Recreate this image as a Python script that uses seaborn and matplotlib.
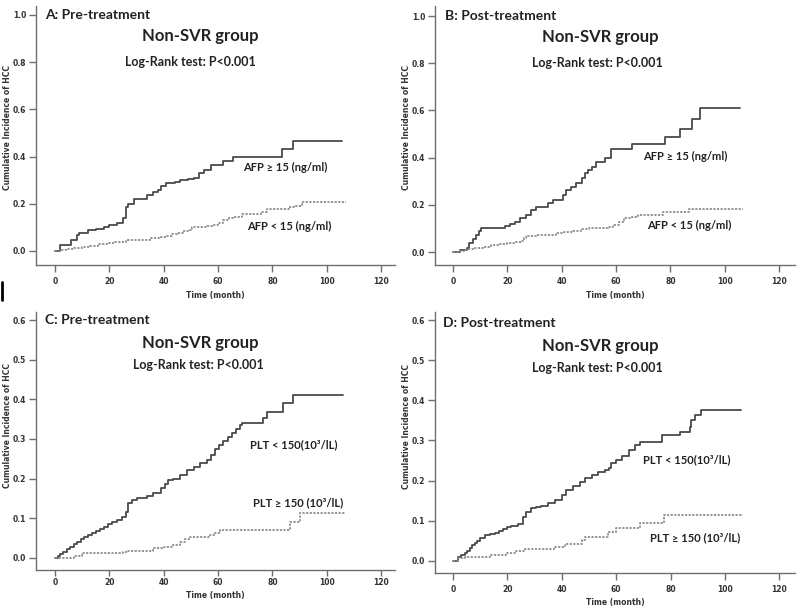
import numpy as np
import pandas as pd
import matplotlib
matplotlib.use("Agg")
import matplotlib.pyplot as plt
import seaborn as sns
from matplotlib.lines import Line2D

# ---------------- data ----------------
# Panel A: pre-treatment AFP
a_hi_t = [0, 2, 6, 8, 9, 12, 15, 18, 20, 23, 25, 26, 27, 29, 34, 36, 38, 39, 41, 44, 46, 49, 51, 53, 55, 57.5, 62, 65.5, 83.5, 87.7, 105.5]
a_hi_y = [0, 0.025, 0.047, 0.066, 0.078, 0.088, 0.094, 0.10, 0.11, 0.12, 0.14, 0.185, 0.20, 0.222, 0.237, 0.25, 0.26, 0.275, 0.287, 0.294, 0.30, 0.305, 0.31, 0.33, 0.345, 0.365, 0.38, 0.40, 0.433, 0.468, 0.468]
a_lo_t = [0, 2, 4, 7, 10, 13, 16, 19, 22, 26, 30, 35, 39, 41, 43, 45, 47, 49, 50.5, 56, 58, 60, 62, 64, 66, 69, 76, 78, 86, 88, 91, 107]
a_lo_y = [0, 0.004, 0.008, 0.013, 0.018, 0.023, 0.028, 0.033, 0.04, 0.045, 0.048, 0.054, 0.058, 0.065, 0.072, 0.078, 0.084, 0.09, 0.10, 0.105, 0.112, 0.12, 0.13, 0.14, 0.145, 0.155, 0.165, 0.178, 0.185, 0.19, 0.207, 0.207]

# Panel B: post-treatment AFP
b_hi_t = [0, 2.5, 5, 6, 7.4, 8.6, 9.5, 10.4, 19, 21, 22.7, 24.5, 27, 28.8, 30.7, 35, 36.8, 40.5, 41.7, 43.6, 45.4, 47.3, 48.5, 49.7, 51, 52.8, 56, 58, 65.8, 78, 83.5, 87.8, 91, 105.6]
b_hi_y = [0, 0.007, 0.016, 0.037, 0.054, 0.072, 0.087, 0.10, 0.11, 0.12, 0.128, 0.143, 0.157, 0.178, 0.192, 0.209, 0.22, 0.242, 0.263, 0.277, 0.291, 0.312, 0.333, 0.347, 0.361, 0.383, 0.40, 0.437, 0.457, 0.489, 0.52, 0.562, 0.609, 0.609]
b_lo_t = [0, 2, 4, 6, 8, 11, 14, 17, 20, 23, 25, 26, 27, 31, 35, 38, 41, 44, 47, 50, 57, 59, 61, 63, 66, 68, 77.3, 87, 106.7]
b_lo_y = [0, 0.004, 0.008, 0.012, 0.016, 0.022, 0.028, 0.034, 0.04, 0.044, 0.048, 0.06, 0.066, 0.07, 0.074, 0.079, 0.085, 0.09, 0.096, 0.10, 0.107, 0.115, 0.128, 0.144, 0.15, 0.158, 0.17, 0.182, 0.182]

# Panel C: pre-treatment PLT
c_lo_t = [0, 1, 2, 3, 4.5, 5.5, 7, 8, 9.5, 10.5, 12, 13.5, 15, 16.5, 18, 19.6, 21, 22.7, 24.5, 26, 27, 28.5, 30, 33.7, 36, 39, 40.5, 41.5, 43.5, 46, 48.5, 51, 53.5, 56, 57.5, 59, 60.5, 62, 63.5, 65, 66.5, 68, 69, 76.7, 78, 84, 87.7, 106]
c_lo_y = [0, 0.005, 0.01, 0.015, 0.022, 0.028, 0.034, 0.04, 0.047, 0.053, 0.058, 0.063, 0.068, 0.072, 0.078, 0.085, 0.09, 0.095, 0.104, 0.115, 0.137, 0.145, 0.15, 0.156, 0.164, 0.175, 0.185, 0.196, 0.20, 0.209, 0.221, 0.23, 0.238, 0.247, 0.26, 0.275, 0.285, 0.295, 0.305, 0.315, 0.325, 0.335, 0.34, 0.352, 0.368, 0.39, 0.41, 0.41]
c_hi_t = [0, 7, 10, 25, 26.5, 36, 40, 43.5, 46, 48, 49.7, 57, 58.5, 60.7, 86.5, 90, 106.7]
c_hi_y = [0, 0.005, 0.011, 0.015, 0.018, 0.024, 0.028, 0.032, 0.04, 0.046, 0.053, 0.057, 0.062, 0.07, 0.091, 0.112, 0.112]

# Panel D: post-treatment PLT
d_lo_t = [0, 1.8, 3, 4.3, 5.2, 6.1, 7, 8, 9, 9.8, 11.7, 13.5, 15.3, 17, 18.4, 20, 21.5, 23.9, 25.8, 27, 28.8, 30.5, 32.5, 35, 37.4, 39.9, 41.7, 44.2, 46.6, 48.5, 51, 53.4, 56, 57.2, 58, 60, 62, 64.6, 67, 68.8, 76.8, 83.5, 87, 87.6, 89, 91, 106]
d_lo_y = [0, 0.01, 0.014, 0.018, 0.025, 0.031, 0.038, 0.045, 0.05, 0.056, 0.064, 0.066, 0.07, 0.074, 0.078, 0.083, 0.087, 0.092, 0.11, 0.122, 0.131, 0.134, 0.136, 0.143, 0.151, 0.164, 0.176, 0.186, 0.197, 0.205, 0.214, 0.22, 0.225, 0.232, 0.243, 0.25, 0.26, 0.276, 0.289, 0.297, 0.313, 0.322, 0.334, 0.351, 0.363, 0.376, 0.376]
d_hi_t = [0, 1.8, 4.3, 14, 19.6, 22.7, 26.4, 37, 41, 47.3, 48.5, 57, 60, 68.8, 77.4, 106.7]
d_hi_y = [0, 0.007, 0.01, 0.015, 0.018, 0.023, 0.03, 0.035, 0.041, 0.051, 0.06, 0.072, 0.081, 0.093, 0.114, 0.114]

panel_titles = ["A: Pre-treatment", "B: Post-treatment", "C: Pre-treatment", "D: Post-treatment"]
group_title = "Non-SVR group"
test_text = "Log-Rank test: P<0.001"
afp_labels = ["AFP \u2265 15 (ng/ml)", "AFP < 15 (ng/ml)"]
plt_labels = ["PLT < 150(10\u00b3/lL)", "PLT \u2265 150 (10\u00b3/lL)"]
x_ticks = [0, 20, 40, 60, 80, 100, 120]
y_ticks_top = [0.0, 0.2, 0.4, 0.6, 0.8, 1.0]
y_ticks_bot = [0.0, 0.1, 0.2, 0.3, 0.4, 0.5, 0.6]
ylabel = "Cumulative Incidence of HCC"
xlabel = "Time (month)"

# ---------------- style ----------------
sns.set_style("ticks")
plt.rcParams['font.family'] = ['Lato', 'DejaVu Sans']

W, H = 800, 608
fig = plt.figure(figsize=(W / 100, H / 100), dpi=100)

SOLID = '#4a4a4a'
DOT = '#8c8c8c'
SPINE = '#6e6e6e'
TICKFONT = dict(family='DejaVu Sans', weight='bold', size=5.5)


def make_ax(left, right, top, bottom, x0, ppm, y0, ppu):
    ax = fig.add_axes([left / W, 1 - bottom / H, (right - left) / W, (bottom - top) / H])
    ax.set_xlim((left - x0) / ppm, (right - x0) / ppm)
    ax.set_ylim((y0 - bottom) / ppu, (y0 - top) / ppu)
    return ax


def style_ax(ax, yticks, ylab_y, xlab_y, xpad=4, xlen=5):
    for s in ['top', 'right']:
        ax.spines[s].set_visible(False)
    for s in ['left', 'bottom']:
        ax.spines[s].set_color(SPINE)
        ax.spines[s].set_linewidth(1.0)
    ax.set_xticks(x_ticks)
    ax.set_xticklabels([str(v) for v in x_ticks], fontdict=TICKFONT, color='#333333')
    ax.set_yticks(yticks)
    ax.set_yticklabels([f"{v:.1f}" for v in yticks], fontdict=TICKFONT, color='#333333')
    ax.tick_params(axis='both', direction='out', width=1, color=SPINE)
    ax.tick_params(axis='x', pad=xpad, length=xlen)
    ax.tick_params(axis='y', pad=2, length=5)
    ax.set_ylabel(ylabel, fontdict=TICKFONT, color='#333333')
    ax.set_xlabel(xlabel, fontdict=TICKFONT, color='#333333')
    ax.yaxis.set_label_coords(-0.068, ylab_y)
    ax.xaxis.set_label_coords(0.5, xlab_y)
    ax.grid(False)


def draw(ax, t, y, solid):
    df = pd.DataFrame({"t": t, "y": y})
    if solid:
        sns.lineplot(data=df, x="t", y="y", ax=ax, drawstyle='steps-post', estimator=None,
                     sort=False, color=SOLID, lw=1.3, linestyle='-')
    else:
        sns.lineplot(data=df, x="t", y="y", ax=ax, drawstyle='steps-post', estimator=None,
                     sort=False, color=DOT, lw=1.3, linestyle=(0, (1.2, 0.8)))


axA = make_ax(36, 395, 6, 265, 55, 2.717, 251, 236)
axB = make_ax(435, 795, 6, 265, 453, 2.717, 252, 236)
axC = make_ax(36, 395, 312, 570, 55, 2.717, 557.7, 396)
axD = make_ax(435, 795, 312, 573, 453, 2.72, 560.7, 401)

draw(axA, a_hi_t, a_hi_y, True)
draw(axA, a_lo_t, a_lo_y, False)
draw(axB, b_hi_t, b_hi_y, True)
draw(axB, b_lo_t, b_lo_y, False)
draw(axC, c_lo_t, c_lo_y, True)
draw(axC, c_hi_t, c_hi_y, False)
draw(axD, d_lo_t, d_lo_y, True)
draw(axD, d_hi_t, d_hi_y, False)

style_ax(axA, y_ticks_top, 0.53, -0.10)
style_ax(axB, y_ticks_top, 0.53, -0.10)
style_ax(axC, y_ticks_bot, 0.56, -0.080, xpad=1.5, xlen=4)
style_ax(axD, y_ticks_bot, 0.56, -0.097)


def ftext(x, y, s, **kw):
    fig.text(x / W, 1 - y / H, s, va='center', color='#222222', **kw)


# panel tags
ftext(45, 15, panel_titles[0], ha='left', fontsize=10, fontweight='bold')
ftext(445, 16, panel_titles[1], ha='left', fontsize=10, fontweight='bold')
ftext(45, 320, panel_titles[2], ha='left', fontsize=10, fontweight='bold')
ftext(443, 323, panel_titles[3], ha='left', fontsize=10, fontweight='bold')

# group titles
for (x, y) in [(200, 36), (600, 37), (200, 343), (600, 346)]:
    ftext(x, y, group_title, ha='center', fontsize=12, fontweight='bold')
for (x, y) in [(190, 62), (597, 63), (198, 365), (597, 368)]:
    ftext(x, y, test_text, ha='center', fontsize=9, fontweight='bold')

# curve labels
ftext(243, 167, afp_labels[0], ha='left', fontsize=8, fontweight='bold')
ftext(247, 226, afp_labels[1], ha='left', fontsize=8, fontweight='bold')
ftext(643, 156, afp_labels[0], ha='left', fontsize=8, fontweight='bold')
ftext(647, 225, afp_labels[1], ha='left', fontsize=8, fontweight='bold')
ftext(250, 445, plt_labels[0], ha='left', fontsize=8, fontweight='bold')
ftext(253, 503, plt_labels[1], ha='left', fontsize=8, fontweight='bold')
ftext(643, 460, plt_labels[0], ha='left', fontsize=8, fontweight='bold')
ftext(650, 538, plt_labels[1], ha='left', fontsize=8, fontweight='bold')

# small edge mark seen at the left border
fig.add_artist(Line2D([2 / W, 2 / W], [1 - 282 / H, 1 - 300 / H], color='black', lw=2))

fig.savefig("out.png", dpi=100)
